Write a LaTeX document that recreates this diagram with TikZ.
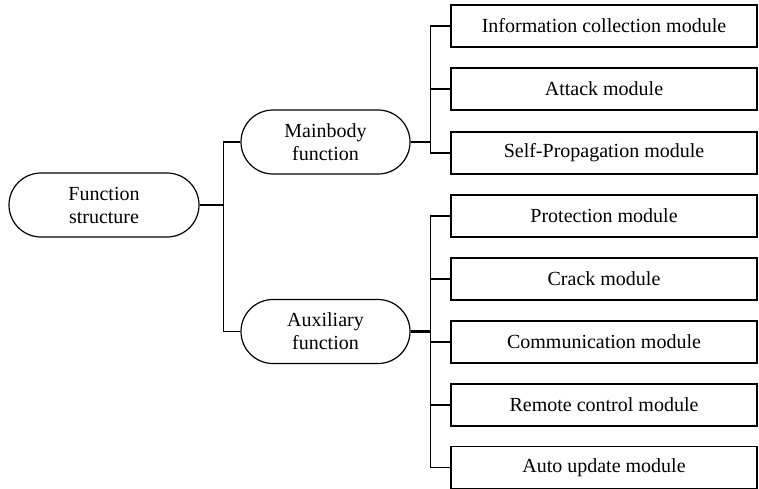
\documentclass[tikz,border=0pt]{standalone}
\usepackage{fontspec}
\setmainfont{Liberation Serif}
\begin{document}
\begin{tikzpicture}[x=0.5pt,y=-0.5pt,
   oval/.style={draw, line width=0.6pt, rounded corners=16pt, minimum width=84.5pt, minimum height=32pt, inner sep=0pt, align=center, font=\fontsize{10}{11.5}\selectfont},
   modbox/.style={draw, line width=0.7pt, minimum width=153pt, minimum height=21pt, inner sep=0pt, font=\fontsize{10}{12}\selectfont},
   link/.style={line width=0.8pt},
   stub/.style={line width=1.3pt}]
   \useasboundingbox (0,0) rectangle (759,488);

   \node[oval, minimum width=95pt] (fs) at (104,205) {Function\\structure};
   \node[oval] (mb) at (325.5,142) {Mainbody\\function};
   \node[oval] (af) at (325.5,331.5) {Auxiliary\\function};

   \node[modbox] (ic) at (604,26) {Information collection module};
   \node[modbox] (at) at (604,89) {Attack module};
   \node[modbox] (sp) at (604,153) {Self-Propagation module};
   \node[modbox] (pr) at (604,216) {Protection module};
   \node[modbox] (cr) at (604,279) {Crack module};
   \node[modbox] (co) at (604,342) {Communication module};
   \node[modbox] (rc) at (604,405) {Remote control module};
   \node[modbox] (au) at (604,467.5) {Auto update module};

   \draw[stub] (fs.east) -- ++(12pt,0) coordinate (rbus);
   \draw[link] (rbus) |- (mb.west);
   \draw[link] (rbus) |- (af.west);

   \draw[stub] (mb.east) -- ++(10pt,0) coordinate (mbus);
   \draw[link] (mbus) |- (ic.west);
   \draw[link] (mbus) |- (at.west);
   \draw[link] (mbus) |- (sp.west);

   \draw[stub] (af.east) -- ++(10pt,0) coordinate (abus);
   \draw[link] (abus) |- (pr.west);
   \draw[link] (abus) |- (cr.west);
   \draw[link] (abus) |- (co.west);
   \draw[link] (abus) |- (rc.west);
   \draw[link] (abus) |- (au.west);
\end{tikzpicture}
\end{document}
